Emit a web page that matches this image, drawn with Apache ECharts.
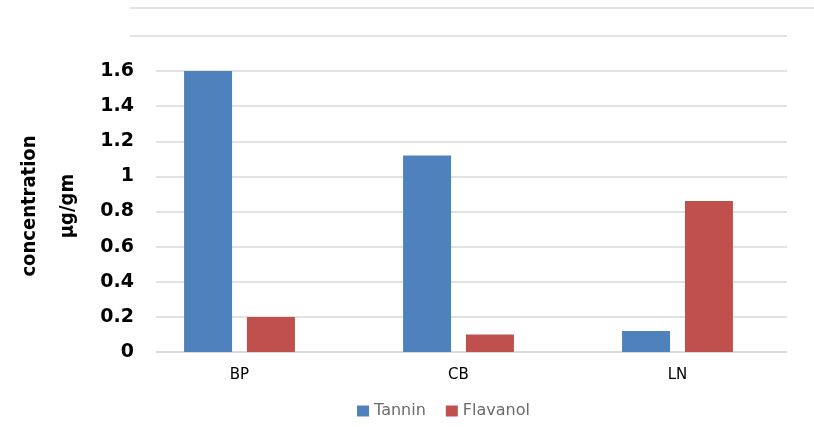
<!DOCTYPE html>
<html><head><meta charset="utf-8">
<script src="https://cdn.jsdelivr.net/npm/echarts@6/dist/echarts.min.js"></script>
<style>html,body{margin:0;padding:0;background:#fff}#c{width:814px;height:427px}</style>
</head><body><div id="c"></div>
<script>
var categories = ['BP', 'CB', 'LN'];
var tannin = [1.6, 1.12, 0.12];
var flavanol = [0.2, 0.1, 0.86];
var seriesNames = ['Tannin', 'Flavanol'];
var yTicks = ['0', '0.2', '0.4', '0.6', '0.8', '1', '1.2', '1.4', '1.6'];

var chart = echarts.init(document.getElementById('c'));
chart.setOption({
  animation: false,
  backgroundColor: '#fff',
  grid: { left: 130, right: 27, top: 36, bottom: 75, containLabel: false, outerBoundsMode: 'none' },
  graphic: [{ type: 'line', shape: { x1: 130, y1: 8, x2: 814, y2: 8 }, style: { stroke: '#d9d9d9', lineWidth: 1.5 } }],
  legend: {
    data: seriesNames, bottom: 3, left: 352, itemWidth: 12, itemHeight: 11, itemGap: 20,
    icon: 'rect', textStyle: { color: '#6b6b6b', fontSize: 16, fontFamily: 'DejaVu Sans' }
  },
  xAxis: {
    type: 'category', data: categories,
    axisLine: { lineStyle: { color: '#d9d9d9', width: 1.5 } }, axisTick: { show: false },
    axisLabel: { color: '#000', fontSize: 15, fontFamily: 'DejaVu Sans', margin: 16 }
  },
  yAxis: {
    type: 'value', min: 0, max: 1.8, interval: 0.2,
    name: 'concentration\nµg/gm', nameLocation: 'middle', nameRotate: 90, nameGap: 43,
    nameTextStyle: { color: '#000', fontSize: 20, fontWeight: 'bold', fontFamily: "'DejaVu Sans Condensed', sans-serif", lineHeight: 38, padding: [0, 24, 0, 0] },
    splitLine: { lineStyle: { color: '#d9d9d9', width: 1.5 } },
    axisLine: { show: false }, axisTick: { show: false },
    axisLabel: {
      showMaxLabel: false,
      color: '#000', fontSize: 19, fontWeight: 'bold', fontFamily: 'DejaVu Sans', margin: -26,
      backgroundColor: '#fff', padding: [4, 22, 0, 0],
      formatter: function (v) { var i = Math.round(v / 0.2); return i < yTicks.length ? yTicks[i] : ''; }
    }
  },
  series: [
    { name: seriesNames[0], type: 'bar', data: tannin, barWidth: 48, barGap: '31%', itemStyle: { color: '#4F81BD' } },
    { name: seriesNames[1], type: 'bar', data: flavanol, barWidth: 48, itemStyle: { color: '#C0504D' } }
  ]
});
</script></body></html>
